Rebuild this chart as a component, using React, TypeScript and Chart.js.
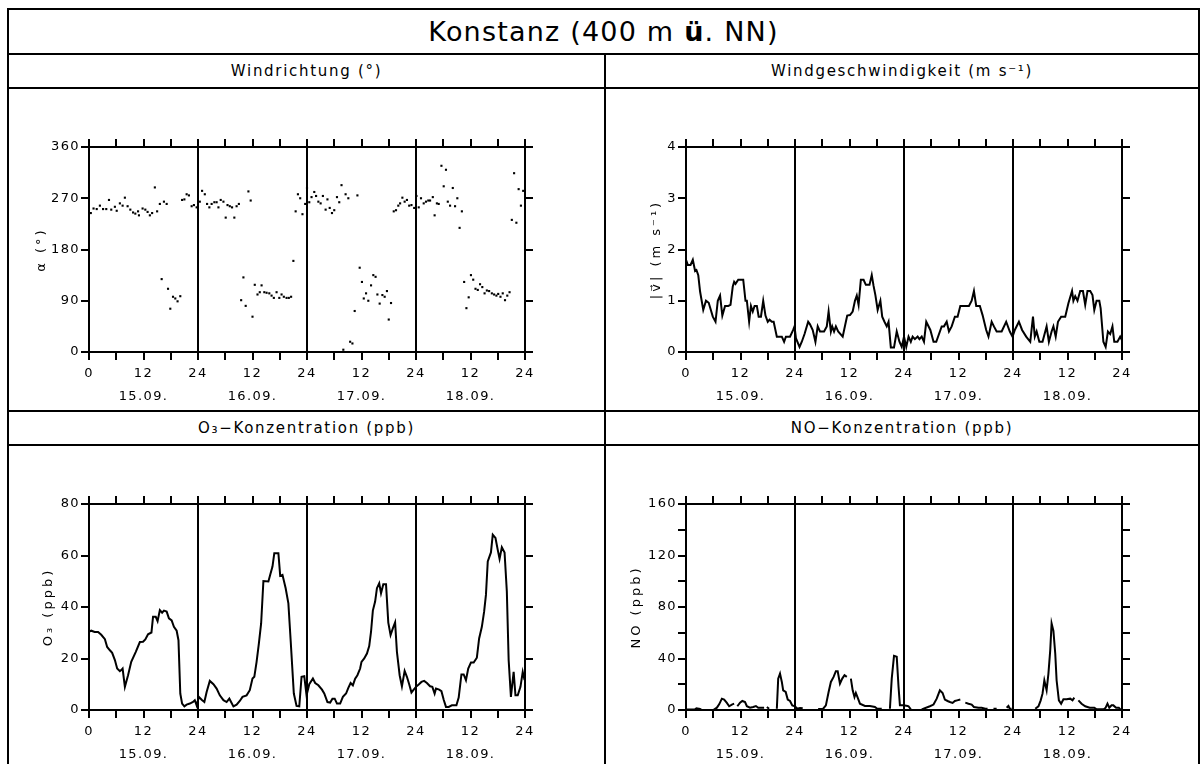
import React, { useEffect, useRef } from "react";
import { Chart, registerables } from "chart.js";

Chart.register(...registerables);

const FONT = '"DejaVu Sans", sans-serif';

// ---- data (hours since 15.09. 00:00, value) ----
const dayLabels = ["15.09.", "16.09.", "17.09.", "18.09."];

const windDirection: [number, number][] = [
  [0.4, 244], [1.0, 252], [1.7, 251], [2.4, 257], [3.1, 251], [3.8, 251], [4.4, 267], [4.9, 250], [5.7, 255], [6.1, 248],
  [6.8, 261], [7.4, 257], [7.9, 271], [8.5, 256], [9.1, 250], [9.7, 245], [10.2, 243], [10.8, 247], [11.0, 240], [11.8, 252],
  [12.4, 250], [12.9, 246], [13.4, 240], [13.9, 244], [14.5, 289], [15.0, 247], [15.6, 260], [16.0, 128], [16.5, 264], [17.1, 260],
  [17.4, 111], [17.9, 76], [18.5, 97], [19.0, 94], [19.5, 89], [20.1, 98], [20.5, 267], [21.0, 268], [21.5, 277], [22.0, 275],
  [22.6, 256], [23.1, 258], [23.7, 254],
  [24.4, 264], [24.9, 283], [25.5, 277], [26.0, 260], [26.5, 254], [27.0, 260], [27.6, 263], [28.1, 263], [28.5, 254], [29.0, 267],
  [29.6, 264], [30.1, 236], [30.5, 258], [31.0, 256], [31.5, 254], [32.0, 236], [32.5, 256], [33.0, 260], [33.5, 91], [34.0, 131],
  [34.5, 81], [35.1, 282], [35.6, 266], [36.0, 62], [36.5, 118], [37.1, 101], [37.6, 105], [38.0, 117], [38.6, 105], [39.1, 104],
  [39.7, 103], [40.2, 99], [40.7, 95], [41.3, 105], [41.9, 95], [42.4, 101], [42.9, 97], [43.5, 95], [44.0, 95], [44.5, 97],
  [45.0, 160], [45.5, 247], [46.0, 277], [46.5, 270], [47.0, 242], [47.6, 260], [48.0, 288],
  [48.5, 263], [49.0, 272], [49.6, 281], [50.0, 274], [50.5, 264], [51.0, 261], [51.5, 274], [52.1, 250], [52.5, 268], [53.0, 253],
  [53.5, 244], [54.0, 249], [54.6, 272], [55.1, 263], [55.6, 293], [56.0, 4], [56.5, 277], [57.1, 270], [57.5, 18], [58.0, 15],
  [58.5, 72], [59.1, 275], [59.6, 148], [60.1, 123], [60.5, 94], [61.0, 103], [61.5, 90], [62.1, 117], [62.6, 135], [63.1, 132],
  [63.5, 101], [64.0, 85], [64.6, 100], [65.1, 97], [65.6, 107], [66.0, 57], [66.5, 86], [67.1, 247], [67.6, 249], [68.1, 257],
  [68.5, 261], [69.0, 271], [69.5, 264], [70.0, 267], [70.5, 257], [71.0, 258], [71.6, 253],
  [72.1, 274], [72.6, 254], [73.1, 270], [73.7, 261], [74.2, 264], [74.7, 266], [75.1, 266], [75.7, 272], [76.1, 240], [76.6, 261],
  [77.0, 260], [77.6, 327], [78.1, 291], [78.6, 320], [79.0, 264], [79.5, 257], [80.1, 288], [80.6, 256], [81.1, 270], [81.6, 218],
  [82.1, 247], [82.6, 123], [83.1, 77], [83.6, 96], [84.1, 135], [84.6, 127], [85.1, 111], [85.6, 109], [86.1, 119], [86.6, 114],
  [87.1, 103], [87.6, 108], [88.1, 107], [88.7, 103], [89.2, 101], [89.7, 99], [90.1, 102], [90.6, 97], [91.1, 103], [91.6, 91],
  [92.1, 99], [92.6, 105], [93.1, 232], [93.6, 314], [94.1, 227], [94.6, 286], [95.1, 257], [95.6, 283],
];

const windSpeed: [number, number][] = [
  [0, 1.8], [0.4, 1.7], [1.0, 1.7], [1.5, 1.8], [2.0, 1.58], [2.3, 1.6], [2.7, 1.5], [3.1, 1.18], [3.8, 0.82], [4.4, 1.0],
  [5.0, 0.96], [5.9, 0.69], [6.5, 0.59], [7.0, 1.0], [7.5, 1.1], [8.0, 0.71], [8.6, 0.9], [9.3, 0.9], [9.8, 0.92], [10.3, 1.28],
  [10.6, 1.37], [10.9, 1.33], [11.5, 1.41], [12.6, 1.41], [13.1, 1.0], [13.4, 1.0], [13.9, 0.59], [14.3, 0.9], [14.7, 0.79], [15.1, 0.9],
  [15.6, 0.9], [16.0, 0.69], [16.5, 0.69], [17.0, 1.0], [17.5, 0.71], [18.0, 0.59], [18.4, 0.63], [18.9, 0.59], [19.3, 0.59], [20.0, 0.3],
  [21.1, 0.3], [21.6, 0.2], [22.0, 0.3], [22.9, 0.3], [23.6, 0.43], [23.9, 0.5], [24.2, 0.27], [25.0, 0.1], [25.5, 0.2], [26.1, 0.35],
  [26.9, 0.59], [27.3, 0.54], [27.9, 0.43], [28.5, 0.2], [29.0, 0.5], [29.5, 0.4], [30.4, 0.4], [31.0, 0.5], [31.4, 0.79], [31.9, 0.4],
  [32.2, 0.5], [32.6, 0.4], [33.0, 0.5], [33.5, 0.4], [34.5, 0.3], [35.2, 0.59], [35.5, 0.71], [36.1, 0.72], [36.7, 0.79], [37.2, 1.0],
  [37.6, 1.1], [38.0, 0.92], [38.5, 1.41], [39.1, 1.41], [39.6, 1.31], [40.4, 1.31], [40.9, 1.5], [41.3, 1.29], [41.7, 1.11], [42.2, 0.82],
  [42.8, 1.0], [43.2, 0.69], [43.7, 0.59], [44.2, 0.5], [44.6, 0.59], [45.1, 0.09], [45.8, 0.09], [46.4, 0.4], [47.0, 0.2], [47.5, 0.1],
  [48.0, 0.3], [48.5, 0.1], [49.0, 0.3], [49.5, 0.2], [49.9, 0.3], [50.4, 0.25], [51.0, 0.3], [51.4, 0.25], [51.9, 0.3], [52.4, 0.2],
  [52.9, 0.59], [53.8, 0.43], [54.5, 0.2], [55.1, 0.2], [56.3, 0.5], [56.8, 0.5], [57.4, 0.59], [57.9, 0.4], [58.5, 0.5], [59.2, 0.69],
  [59.8, 0.69], [60.4, 0.9], [62.3, 0.9], [62.9, 1.0], [63.4, 1.19], [63.9, 0.9], [64.7, 0.9], [65.3, 0.72], [66.1, 0.43], [66.6, 0.3],
  [67.3, 0.59], [67.8, 0.5], [68.4, 0.4], [69.5, 0.4], [70.5, 0.59], [71.3, 0.4], [71.9, 0.3], [72.4, 0.43], [73.3, 0.59], [74.0, 0.43],
  [74.9, 0.3], [75.8, 0.2], [76.4, 0.69], [76.8, 0.3], [77.2, 0.4], [77.8, 0.2], [78.5, 0.2], [79.1, 0.4], [79.4, 0.5], [79.9, 0.2],
  [80.5, 0.4], [80.9, 0.5], [81.4, 0.3], [81.9, 0.59], [82.6, 0.69], [83.5, 0.69], [84.2, 0.95], [85.0, 1.19], [85.3, 1.0], [85.7, 1.09],
  [86.2, 1.0], [86.8, 1.19], [87.4, 1.19], [87.9, 0.92], [88.4, 1.19], [89.0, 1.19], [89.5, 1.11], [89.9, 0.82], [90.4, 1.0], [91.0, 1.0],
  [91.3, 0.85], [91.9, 0.2], [92.4, 0.1], [92.9, 0.4], [93.4, 0.35], [93.9, 0.5], [94.3, 0.2], [95.0, 0.2], [95.6, 0.3], [96.0, 0.23],
];

const ozone: [number, number][] = [
  [0, 30.4], [0.5, 30.8], [1.25, 30.3], [2.0, 30.3], [2.7, 29.2], [3.5, 27.5], [4.0, 24.5], [4.6, 23.2], [5.1, 22.2], [5.7, 19.4],
  [6.2, 16.1], [6.8, 15.1], [7.1, 15.5], [7.4, 16.1], [7.9, 9.0], [8.6, 13.5], [9.3, 18.7], [10.3, 22.6], [11.2, 26.4], [11.9, 26.5],
  [12.4, 27.4], [13.0, 29.4], [13.75, 30.1], [14.1, 36.2], [14.7, 36.2], [15.1, 34.5], [15.6, 38.8], [16.1, 37.8], [16.5, 38.6], [17.1, 38.2],
  [17.6, 35.6], [18.2, 34.8], [18.7, 32.3], [19.3, 30.8], [19.7, 27.1], [20.1, 6.4], [20.5, 2.5], [21.0, 1.4], [21.5, 2.1], [22.2, 2.5],
  [22.9, 3.1], [23.3, 3.8], [23.7, 1.8], [24.2, 5.1], [24.8, 4.0], [25.4, 3.1], [25.9, 7.0], [26.6, 11.3], [27.4, 10.0], [28.1, 8.3],
  [28.8, 5.7], [29.6, 3.8], [30.3, 3.1], [30.9, 4.4], [31.8, 1.4], [32.5, 2.1], [33.2, 3.5], [33.8, 5.1], [34.7, 5.7], [35.4, 7.7],
  [36.0, 12.2], [36.4, 12.9], [36.9, 18.7], [37.4, 25.8], [37.9, 33.6], [38.4, 50.1], [39.5, 49.9], [39.9, 52.5], [40.4, 55.7], [40.8, 60.9],
  [41.7, 60.9], [42.1, 52.1], [42.6, 52.5], [43.3, 47.3], [43.9, 41.4], [44.4, 27.1], [45.1, 6.4], [45.7, 1.6], [46.3, 1.4], [46.8, 12.9],
  [47.4, 13.1], [47.9, 5.7], [48.5, 10.0], [49.3, 12.2], [49.8, 10.5], [50.5, 9.6], [51.3, 7.9], [51.8, 6.4], [52.5, 3.1], [53.1, 2.9],
  [53.6, 4.4], [54.1, 4.4], [54.6, 2.5], [55.3, 2.5], [55.9, 5.1], [56.6, 6.4], [57.1, 8.6], [57.6, 10.5], [58.1, 9.6], [58.6, 12.2],
  [59.1, 13.5], [59.7, 16.1], [60.0, 18.7], [60.6, 20.0], [61.2, 21.9], [61.7, 24.8], [62.1, 30.4], [62.5, 38.6], [63.0, 42.1], [63.4, 47.3],
  [63.9, 49.2], [64.3, 45.3], [64.8, 48.8], [65.4, 48.8], [65.9, 33.9], [66.4, 29.1], [66.9, 31.7], [67.4, 34.0], [67.8, 22.6], [68.4, 13.5],
  [68.9, 9.2], [69.5, 15.2], [70.0, 12.9], [70.5, 10.0], [71.0, 6.8], [71.5, 7.9], [72.0, 9.0], [72.6, 9.9], [73.2, 10.9], [73.8, 11.3],
  [74.4, 10.5], [75.1, 9.2], [75.6, 9.0], [76.1, 6.4], [76.4, 8.3], [77.1, 7.9], [77.6, 7.3], [78.1, 4.0], [78.6, 1.2], [79.2, 1.2],
  [79.9, 1.8], [80.9, 1.8], [81.4, 4.8], [82.0, 13.8], [82.5, 13.8], [83.0, 11.6], [83.5, 16.1], [84.1, 18.4], [84.7, 18.4], [85.4, 20.3],
  [85.9, 27.8], [86.5, 32.3], [87.0, 38.2], [87.4, 44.7], [87.8, 57.7], [88.5, 61.2], [88.9, 68.1], [89.5, 66.8], [90.0, 62.2], [90.4, 58.7],
  [90.9, 63.2], [91.5, 61.2], [92.0, 46.0], [92.4, 19.4], [92.9, 5.1], [93.5, 14.8], [93.9, 5.7], [94.4, 5.7], [95.0, 9.0], [95.5, 14.8],
  [95.9, 11.6],
];

const nitricOxide: [number, number | null][] = [
  [0, 0.3], [2.0, 0.5], [2.3, 1.3], [3.1, 0.8], [3.5, 0], [6.0, 0], [6.8, 1.8], [7.3, 4.4], [7.9, 8.8], [8.4, 8.1],
  [9.0, 5.5], [9.5, 2.9], [10.1, 4.2], [10.6, 4.9], [10.9, null], [11.3, 2.9], [11.9, 5.7], [12.4, 7.0], [13.0, 6.2], [13.4, 2.9],
  [14.1, 1.8], [14.8, 2.3], [15.4, 3.1], [15.9, 1.8], [16.7, 1.8], [17.2, 1.8], [17.5, null], [17.8, 2.3], [18.3, 1.0], [18.6, null],
  [20.0, 1.0], [20.3, 24.4], [20.7, 28.3], [21.1, 21.8], [21.4, 15.3], [21.95, 14.0], [22.4, 8.1], [22.9, 7.0], [23.4, 3.6], [24.0, 2.9],
  [24.5, 1.0], [25.1, 1.6], [25.7, 1.3], [26.0, null], [29.1, 0.8], [30.2, 1.0], [30.8, 3.6], [31.4, 14.0], [31.9, 21.8], [32.5, 25.7],
  [33.0, 30.1], [33.4, 30.1], [33.9, 20.5], [34.4, 24.4], [34.9, 27.0], [35.4, 25.7], [35.8, null], [36.3, 24.4], [36.7, 15.3], [37.1, 10.1],
  [37.4, 13.2], [37.8, 9.6], [38.3, 4.9], [39.4, 3.1], [40.5, 3.1], [41.6, 2.3], [42.1, 1.0], [43.1, 1.0], [43.5, null], [44.9, 1.0],
  [45.3, 24.4], [45.8, 42.1], [46.4, 41.3], [46.8, 17.9], [47.1, 3.6], [47.9, 3.6], [48.8, 3.1], [49.0, 2.9], [49.5, 0.5], [50.0, null],
  [51.9, 0.5], [53.7, 2.9], [54.5, 4.2], [55.2, 8.8], [55.9, 15.3], [56.5, 13.2], [57.0, 8.1], [57.6, 7.0], [58.1, 6.2], [58.7, 5.5],
  [59.2, 7.0], [59.7, 7.5], [60.4, 8.1], [60.9, null], [61.5, 5.7], [62.2, 4.9], [62.9, 4.2], [63.4, 2.3], [64.4, 1.8], [65.1, 1.8],
  [65.9, 1.0], [66.4, 1.0], [67.0, null], [67.7, 1.0], [68.4, 1.0], [69.0, null], [70.6, 1.8], [70.99, 3.1], [71.3, 1.0], [71.7, 1.0],
  [72.0, null], [76.9, 1.0], [77.6, 2.9], [78.1, 7.5], [78.5, 12.7], [78.9, 23.1], [79.4, 15.3], [79.8, 28.3], [80.2, 46.5], [80.5, 67.3],
  [80.9, 61.5], [81.3, 43.9], [81.6, 23.1], [82.1, 7.5], [82.6, 4.9], [83.1, 8.3], [83.8, 8.3], [84.6, 8.8], [85.1, 7.5], [85.5, 9.6],
  [86.0, null], [86.4, 7.5], [87.1, 4.9], [87.9, 2.9], [88.9, 1.8], [89.9, 1.8], [90.4, 0.5], [91.5, 0.5], [92.0, 0.5], [92.4, 1.8],
  [92.8, 4.9], [93.2, 1.8], [93.7, 3.6], [94.1, 3.6], [94.7, 1.8], [95.3, 1.8], [95.7, 0.3],
];

// ---- helpers ----
function hourLabel(value: number) {
  const v = Number(value);
  if (v % 12 !== 0) return "";
  const h = v === 0 ? 0 : v % 24 === 0 ? 24 : v % 24;
  if (v % 24 === 12) return [String(h), dayLabels[Math.floor(v / 24)]];
  return String(h);
}

const spacingPlugin = {
  id: "spacing",
  beforeUpdate(chart: any) {
    chart.ctx.letterSpacing = "1.4px";
  },
  beforeDraw(chart: any) {
    chart.ctx.letterSpacing = "1.4px";
    const s = chart.scales.y;
    if (s && !s.__wrapped) {
      const orig = s.drawTitle;
      s.drawTitle = function (this: any) {
        const c = chart.ctx;
        const p = c.letterSpacing;
        c.letterSpacing = "3px";
        orig.call(this);
        c.letterSpacing = p;
      };
      s.__wrapped = true;
    }
  },
};

type PanelOpts = {
  kind: "scatter" | "line";
  points: [number, number | null][];
  yMax: number;
  yStep: number;
  yLabelEvery: number;
  yTitle: string;
  titleCenter: number;
  W: number;
  xHeight: number;
};

function buildConfig(o: PanelOpts): any {
  const tickGrid = { tickLength: 8, tickWidth: 2, tickColor: "#000", color: "#000", lineWidth: 2, drawTicks: true };
  const border = { display: true, color: "#000", width: 2 };
  const data = o.points.map(([x, y]) => ({ x, y }));
  const dataset =
    o.kind === "scatter"
      ? { data, showLine: false, pointStyle: "rect", pointRadius: 1.5, pointBackgroundColor: "#000", pointBorderWidth: 0, backgroundColor: "#000" }
      : { data, borderColor: "#000", borderWidth: 2, pointRadius: 0, tension: 0, spanGaps: false, fill: false };
  return {
    type: o.kind === "scatter" ? "scatter" : "line",
    data: { datasets: [dataset] },
    options: {
      animation: false,
      responsive: false,
      devicePixelRatio: 1,
      events: [],
      layout: { padding: 0 },
      plugins: { legend: { display: false }, tooltip: { enabled: false }, title: { display: false } },
      scales: {
        x: {
          type: "linear",
          position: "bottom",
          min: 0,
          max: 96,
          ticks: {
            stepSize: 6,
            autoSkip: false,
            maxRotation: 0,
            minRotation: 0,
            padding: 3,
            color: "#000",
            font: { family: FONT, size: 13, lineHeight: 1.7 },
            callback: (v: number) => hourLabel(v),
          },
          grid: {
            ...tickGrid,
            drawOnChartArea: true,
            color: (ctx: any) => {
              const v = ctx.tick ? ctx.tick.value : -1;
              return v > 0 && v < 96 && v % 24 === 0 ? "#000" : "rgba(0,0,0,0)";
            },
          },
          border,
          afterFit: (s: any) => {
            s.height = o.xHeight;
          },
        },
        x2: {
          type: "linear",
          position: "top",
          min: 0,
          max: 96,
          ticks: { stepSize: 6, autoSkip: false, maxRotation: 0, callback: () => "" },
          grid: { ...tickGrid, drawOnChartArea: false },
          border,
          afterFit: (s: any) => {
            s.height = 58;
          },
        },
        y: {
          type: "linear",
          position: "left",
          min: 0,
          max: o.yMax,
          ticks: {
            stepSize: o.yStep,
            autoSkip: false,
            padding: 1,
            color: "#000",
            font: { family: FONT, size: 13 },
            callback: (v: number) => (Math.abs(v % o.yLabelEvery) < 1e-9 ? String(v) : ""),
          },
          grid: { ...tickGrid, drawOnChartArea: false },
          border,
          title: {
            display: true,
            text: o.yTitle,
            color: "#000",
            font: { family: FONT, size: 13 },
            padding: { top: o.titleCenter - 7.8, bottom: 0 },
          },
          afterFit: (s: any) => {
            s.width = 80;
          },
        },
        y2: {
          type: "linear",
          position: "right",
          min: 0,
          max: o.yMax,
          ticks: { stepSize: o.yStep, autoSkip: false, callback: () => "" },
          grid: { ...tickGrid, drawOnChartArea: false },
          border,
          afterFit: (s: any) => {
            s.width = o.W - 516;
          },
        },
      },
    },
    plugins: [spacingPlugin],
  };
}

function ChartPanel(props: { left: number; top: number; width: number; height: number; opts: PanelOpts }) {
  const ref = useRef<HTMLCanvasElement>(null);
  useEffect(() => {
    const chart = new Chart(ref.current as HTMLCanvasElement, buildConfig(props.opts));
    return () => chart.destroy();
  }, []);
  return (
    <canvas
      ref={ref}
      width={props.width}
      height={props.height}
      style={{ position: "absolute", left: props.left, top: props.top, width: props.width, height: props.height }}
    />
  );
}

const rules: [number, number, number, number][] = [
  [7, 8, 1193, 2],
  [7, 8, 2, 760],
  [1198, 8, 2, 760],
  [7, 53, 1193, 2],
  [7, 87, 1193, 2],
  [604, 53, 2, 715],
  [7, 410, 1193, 2],
  [7, 444, 1193, 2],
];

function Header(props: { left: number; top: number; width: number; children: React.ReactNode }) {
  return (
    <div
      style={{
        position: "absolute",
        left: props.left,
        top: props.top,
        width: props.width,
        height: 32,
        display: "flex",
        alignItems: "center",
        justifyContent: "center",
        fontSize: 15,
        letterSpacing: "1.7px",
        whiteSpace: "nowrap",
      }}
    >
      {props.children}
    </div>
  );
}

export default function App() {
  return (
    <div
      style={{
        position: "fixed",
        left: 0,
        top: 0,
        width: 1202,
        height: 764,
        overflow: "hidden",
        background: "#fff",
        color: "#000",
        fontFamily: FONT,
      }}
    >
      {rules.map(([l, t, w, h], i) => (
        <div key={i} style={{ position: "absolute", left: l, top: t, width: w, height: h, background: "#000" }} />
      ))}
      <div
        style={{
          position: "absolute",
          left: 9,
          top: 10,
          width: 1189,
          height: 43,
          display: "flex",
          alignItems: "center",
          justifyContent: "center",
          fontSize: 27,
          letterSpacing: "1.2px",
          whiteSpace: "nowrap",
        }}
      >
        <span>
          Konstanz (400 m <b>ü</b>. NN)
        </span>
      </div>
      <Header left={9} top={55} width={595}>Windrichtung (°)</Header>
      <Header left={606} top={55} width={592}>Windgeschwindigkeit (m s⁻¹)</Header>
      <Header left={9} top={412} width={595}>O₃−Konzentration (ppb)</Header>
      <Header left={606} top={412} width={592}>NO−Konzentration (ppb)</Header>

      <ChartPanel
        left={9}
        top={89}
        width={595}
        height={321}
        opts={{ kind: "scatter", points: windDirection, yMax: 360, yStep: 90, yLabelEvery: 90, yTitle: "α (°)", titleCenter: 33, W: 595, xHeight: 58 }}
      />
      <ChartPanel
        left={606}
        top={89}
        width={592}
        height={321}
        opts={{ kind: "line", points: windSpeed, yMax: 4, yStep: 1, yLabelEvery: 1, yTitle: "|v\u20D7| (m s⁻¹)", titleCenter: 51, W: 592, xHeight: 58 }}
      />
      <ChartPanel
        left={9}
        top={446}
        width={595}
        height={318}
        opts={{ kind: "line", points: ozone, yMax: 80, yStep: 20, yLabelEvery: 20, yTitle: "O₃ (ppb)", titleCenter: 40, W: 595, xHeight: 54 }}
      />
      <ChartPanel
        left={606}
        top={446}
        width={592}
        height={318}
        opts={{ kind: "line", points: nitricOxide, yMax: 160, yStep: 20, yLabelEvery: 40, yTitle: "NO (ppb)", titleCenter: 31, W: 592, xHeight: 54 }}
      />
    </div>
  );
}
